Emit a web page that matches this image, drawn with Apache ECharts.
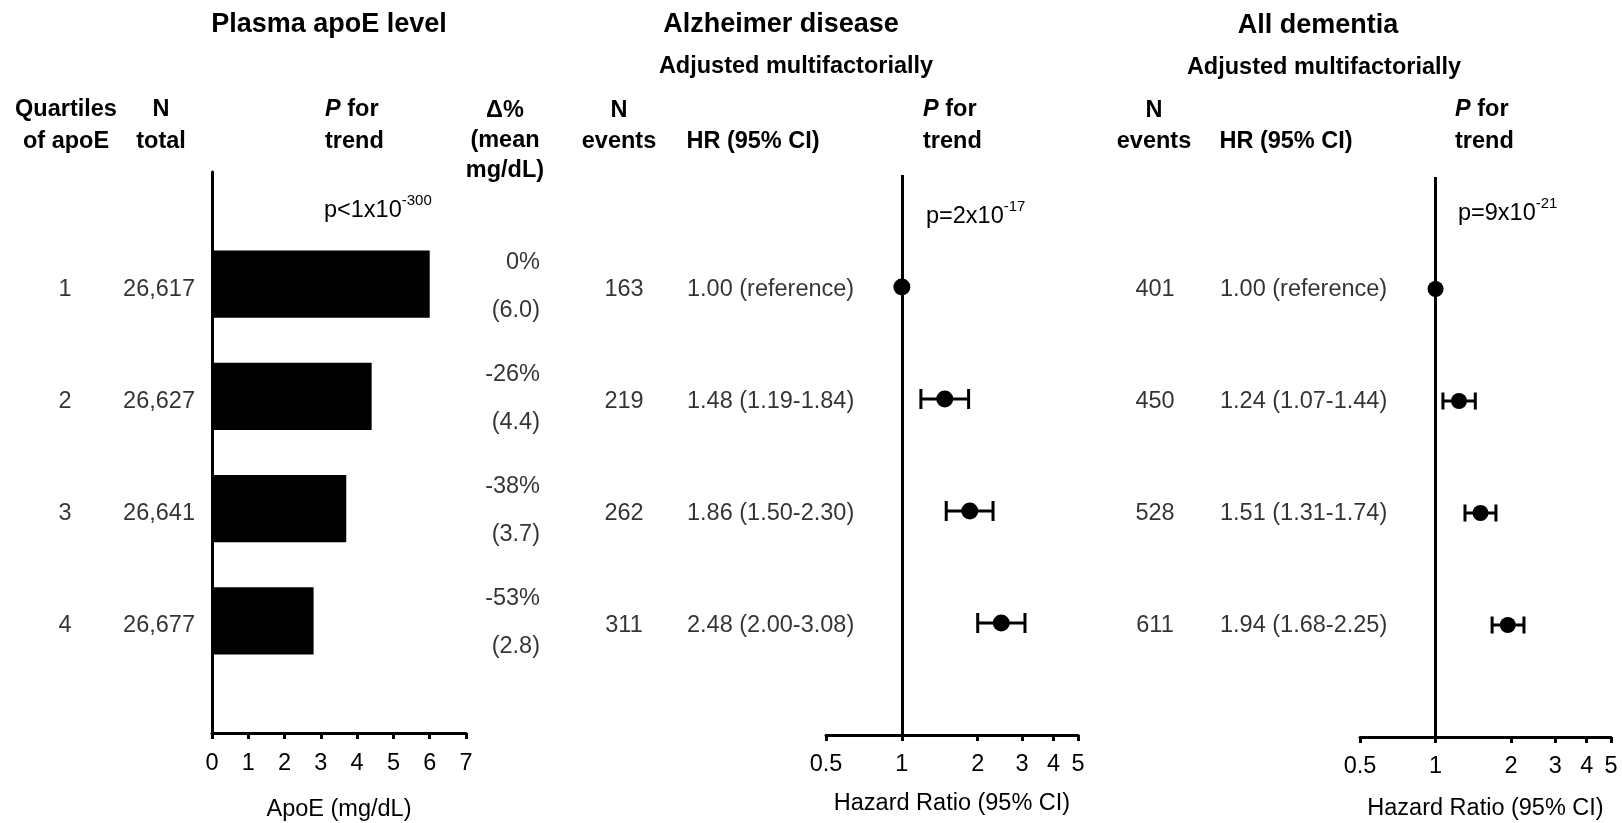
<!DOCTYPE html>
<html>
<head>
<meta charset="utf-8">
<title>Plasma apoE and risk of dementia</title>
<script src="https://cdn.jsdelivr.net/npm/echarts@6/dist/echarts.min.js"></script>
<style>
  html, body { margin: 0; padding: 0; background: #fff; }
  #chart { width: 1622px; height: 823px; }
</style>
</head>
<body>
<div id="chart"></div>
<script>
// quartiles of plasma apoE
const quartiles = ['1', '2', '3', '4']
const nTotal = ['26,617', '26,627', '26,641', '26,677']
const apoeMean = [6.0, 4.4, 3.7, 2.8]
const apoeDelta = ['0%', '-26%', '-38%', '-53%']
const apoeTicks = [0, 1, 2, 3, 4, 5, 6, 7]

// Alzheimer disease, adjusted multifactorially
const adEvents = ['163', '219', '262', '311']
const adHR = [1.00, 1.48, 1.86, 2.48]
const adLow = [null, 1.19, 1.50, 2.00]
const adHigh = [null, 1.84, 2.30, 3.08]

// all dementia, adjusted multifactorially
const dmEvents = ['401', '450', '528', '611']
const dmHR = [1.00, 1.24, 1.51, 1.94]
const dmLow = [null, 1.07, 1.31, 1.68]
const dmHigh = [null, 1.44, 1.74, 2.25]

const hrTicks = [0.5, 1, 2, 3, 4, 5]

// P for trend: [prefix, exponent]
const pApoe = ['p<1x10', '-300']
const pAd = ['p=2x10', '-17']
const pDm = ['p=9x10', '-21']

const FONT = '"Liberation Sans", Arial, Helvetica, sans-serif'
const INK = '#000'
const FS = 23.5   // body text size

const chart = echarts.init(document.getElementById('chart'), null, { renderer: 'canvas' })

const hrText = (hr, lo, hi) => lo == null
  ? hr.toFixed(2) + ' (reference)'
  : `${hr.toFixed(2)} (${lo.toFixed(2)}-${hi.toFixed(2)})`

const adText = adHR.map((v, i) => hrText(v, adLow[i], adHigh[i]))
const dmText = dmHR.map((v, i) => hrText(v, dmLow[i], dmHigh[i]))
const deltaText = apoeDelta.map((d, i) => `${d}\n(${apoeMean[i].toFixed(1)})`)

const font = (size, weight, style) => ({
  fontSize: size, fontWeight: weight || 'normal', fontStyle: style || 'normal', fontFamily: FONT, fill: INK
})

// one column of the table, laid on the hidden full-width grid (index 3)
function textCol(x, texts, align, extra) {
  return {
    type: 'scatter', xAxisIndex: 3, yAxisIndex: 3, symbolSize: 1, silent: true,
    itemStyle: { color: 'rgba(0,0,0,0)' },
    data: texts.map((t, i) => [x, i + 1]),
    label: Object.assign({
      show: true, position: 'inside', align, verticalAlign: 'middle', offset: [0, 4],
      formatter: p => texts[p.dataIndex],
      color: INK, fontSize: FS, fontFamily: FONT
    }, extra || {})
  }
}

function ciSeries(gi, lo, hi, cap) {
  const data = []
  lo.forEach((l, i) => { if (l != null) data.push([l, hi[i], i + 1]) })
  return {
    type: 'custom', xAxisIndex: gi, yAxisIndex: gi, silent: true,
    encode: { x: [0, 1], y: 2 },
    data,
    renderItem(params, api) {
      const y = api.value(2)
      const a = api.coord([api.value(0), y])
      const b = api.coord([api.value(1), y])
      const st = { stroke: INK, lineWidth: 3 }
      return {
        type: 'group',
        children: [
          { type: 'line', shape: { x1: a[0], y1: a[1], x2: b[0], y2: b[1] }, style: st },
          { type: 'line', shape: { x1: a[0], y1: a[1] - cap, x2: a[0], y2: a[1] + cap }, style: st },
          { type: 'line', shape: { x1: b[0], y1: b[1] - cap, x2: b[0], y2: b[1] + cap }, style: st }
        ]
      }
    }
  }
}

function pointSeries(gi, hr, size) {
  return {
    type: 'scatter', xAxisIndex: gi, yAxisIndex: gi, silent: true,
    symbolSize: size, itemStyle: { color: INK, opacity: 1 },
    data: hr.map((v, i) => [v, i + 1]),
    markLine: {
      silent: true, symbol: 'none', animation: false,
      label: { show: false },
      lineStyle: { color: INK, width: 3, type: 'solid' },
      data: [{ xAxis: 1 }]
    }
  }
}

function hrAxis(gi, gap) {
  return {
    type: 'log', gridIndex: gi, min: 0.5, max: 5, logBase: 10,
    axisLine: { show: true, onZero: false, lineStyle: { color: INK, width: 3 } },
    axisTick: { show: true, length: 6, customValues: hrTicks, lineStyle: { color: INK, width: 3 } },
    axisLabel: {
      customValues: hrTicks, margin: 18, color: INK, fontSize: FS, fontFamily: FONT,
      formatter: v => String(+(+v).toFixed(2))
    },
    splitLine: { show: false }, minorTick: { show: false },
    name: 'Hazard Ratio (95% CI)', nameLocation: 'middle', nameGap: gap,
    nameTextStyle: { color: INK, fontSize: FS, fontFamily: FONT }
  }
}

const rowAxis = (gi, showLine) => ({
  type: 'value', gridIndex: gi, min: 0, max: 5, inverse: true,
  axisLine: { show: showLine, onZero: false, lineStyle: { color: INK, width: 3 } },
  axisTick: { show: false }, axisLabel: { show: false }, splitLine: { show: false }
})

// header texts
function txt(x, y, text, o) {
  return {
    type: 'text', x, y, silent: true,
    style: Object.assign({ text, align: 'center', verticalAlign: 'middle' }, font(FS, 'bold'), o || {})
  }
}
const pForTrend = (x) => txt(x, 126, '{i|P}{b| for}\n{b|trend}', {
  align: 'left',
  rich: {
    i: Object.assign({ lineHeight: 32 }, font(FS, 'bold', 'italic')),
    b: Object.assign({ lineHeight: 32 }, font(FS, 'bold'))
  }
})
const pValue = (x, y, p) => txt(x, y, `{n|${p[0]}}{s|${p[1]}}`, {
  align: 'left',
  rich: {
    n: font(FS),
    s: Object.assign({ padding: [0, 0, 20, 0] }, font(15))
  }
})

const option = {
  animation: false,
  backgroundColor: '#fff',
  grid: [
    { left: 212, top: 172, width: 254, height: 561, outerBoundsMode: 'none', containLabel: false },
    { left: 826, top: 175, width: 252, height: 560, outerBoundsMode: 'none', containLabel: false },
    { left: 1360, top: 177, width: 251, height: 560, outerBoundsMode: 'none', containLabel: false },
    { left: 0, top: 173, width: 1622, height: 561, outerBoundsMode: 'none', containLabel: false }
  ],
  xAxis: [
    {
      type: 'value', gridIndex: 0, min: 0, max: 7, interval: 1,
      axisLine: { show: true, onZero: false, lineStyle: { color: INK, width: 3 } },
      axisTick: { show: true, length: 6, lineStyle: { color: INK, width: 3 } },
      axisLabel: {
        margin: 19, color: INK, fontSize: FS, fontFamily: FONT,
        formatter: v => apoeTicks.includes(v) ? String(v) : ''
      },
      splitLine: { show: false },
      name: 'ApoE (mg/dL)', nameLocation: 'middle', nameGap: 65,
      nameTextStyle: { color: INK, fontSize: FS, fontFamily: FONT }
    },
    hrAxis(1, 57),
    hrAxis(2, 60),
    { type: 'value', gridIndex: 3, min: 0, max: 1622, show: false }
  ],
  yAxis: [
    rowAxis(0, true),
    rowAxis(1, false),
    rowAxis(2, false),
    Object.assign(rowAxis(3, false), { show: false })
  ],
  graphic: [
    txt(329, 25, 'Plasma apoE level', { fontSize: 27 }),
    txt(781, 25, 'Alzheimer disease', { fontSize: 27 }),
    txt(1318, 26, 'All dementia', { fontSize: 27 }),
    txt(796, 67, 'Adjusted multifactorially'),
    txt(1324, 68, 'Adjusted multifactorially'),
    txt(66, 126, 'Quartiles\nof apoE', { lineHeight: 32 }),
    txt(161, 126, 'N\ntotal', { lineHeight: 32 }),
    pForTrend(325),
    txt(505, 141, 'Δ%\n(mean\nmg/dL)', { lineHeight: 30 }),
    txt(619, 126, 'N\nevents', { lineHeight: 31 }),
    txt(753, 142, 'HR (95% CI)'),
    pForTrend(923),
    txt(1154, 126, 'N\nevents', { lineHeight: 31 }),
    txt(1286, 142, 'HR (95% CI)'),
    pForTrend(1455),
    pValue(324, 211, pApoe),
    pValue(926, 217, pAd),
    pValue(1458, 214, pDm)
  ],
  series: [
    {
      // apoE bars
      type: 'custom', xAxisIndex: 0, yAxisIndex: 0, silent: true,
      data: apoeMean.map((v, i) => [v, i + 1]),
      renderItem(params, api) {
        const row = api.value(1)
        const s = api.coord([0, row])
        const e = api.coord([api.value(0), row])
        const h = api.size([0, 0.6])[1]
        return {
          type: 'rect',
          shape: { x: s[0], y: s[1] - h / 2, width: e[0] - s[0], height: h },
          style: { fill: INK }
        }
      }
    },
    ciSeries(1, adLow, adHigh, 10),
    pointSeries(1, adHR, 17),
    ciSeries(2, dmLow, dmHigh, 8.5),
    pointSeries(2, dmHR, 16),
    textCol(65, quartiles, 'center'),
    textCol(195, nTotal, 'right'),
    textCol(540, deltaText, 'right', { lineHeight: 48, offset: [0, 1] }),
    textCol(624, adEvents, 'center'),
    textCol(687, adText, 'left'),
    textCol(1155, dmEvents, 'center'),
    textCol(1220, dmText, 'left')
  ]
}

chart.setOption(option)
</script>
</body>
</html>
